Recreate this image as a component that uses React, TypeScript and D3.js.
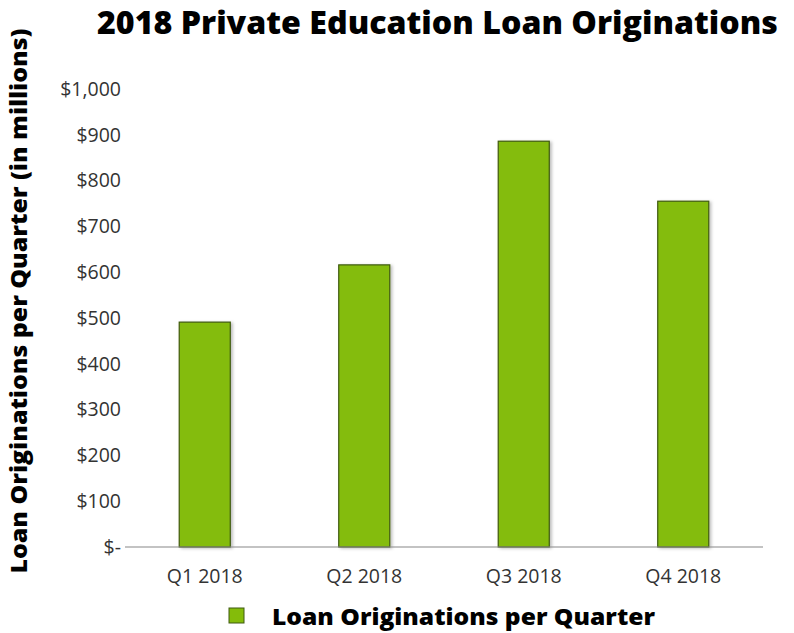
import React from "react";
import * as d3 from "d3";

const quarters = ["Q1 2018", "Q2 2018", "Q3 2018", "Q4 2018"];
const originations = [491, 616, 886, 755];
const yTicks = [0, 100, 200, 300, 400, 500, 600, 700, 800, 900, 1000];

const width = 794;
const height = 633;
const margin = { top: 89, right: 31, bottom: 86, left: 125 };

const fmt = (v: number) => (v === 0 ? "$-" : "$" + d3.format(",")(v));

const App: React.FC = () => {
  const innerW = width - margin.left - margin.right;
  const innerH = height - margin.top - margin.bottom;

  const x = d3
    .scaleBand()
    .domain(quarters)
    .range([0, innerW])
    .paddingInner(0.68)
    .paddingOuter(0.34);

  const y = d3.scaleLinear().domain([0, 1000]).range([innerH, 0]);

  const data = quarters.map((q, i) => ({ q, v: originations[i] }));
  const font = "'Open Sans', sans-serif";

  return (
    <svg width={width} height={height} style={{ position: "absolute", left: 0, top: 0 }}>
      <defs>
        <filter id="shadow" x="-20%" y="-5%" width="150%" height="120%">
          <feDropShadow dx="2" dy="1" stdDeviation="1.5" floodColor="#000" floodOpacity="0.25" />
        </filter>
      </defs>
      <rect width={width} height={height} fill="#fff" />
      <text
        x={97}
        y={34}
        textLength={681}
        lengthAdjust="spacingAndGlyphs"
        fontFamily={font}
        fontWeight={800}
        fontSize={31}
        fill="#000"
      >
        2018 Private Education Loan Originations
      </text>
      <text
        transform="translate(27,301) rotate(-90)"
        textAnchor="middle"
        textLength={545}
        lengthAdjust="spacingAndGlyphs"
        fontFamily={font}
        fontWeight={800}
        fontSize={23}
        fill="#000"
      >
        Loan Originations per Quarter (in millions)
      </text>
      <g transform={`translate(${margin.left},${margin.top})`}>
        {yTicks.map((t) => (
          <text
            key={t}
            x={-4}
            y={y(t)}
            dy="0.35em"
            textAnchor="end"
            fontFamily={font}
            fontSize={19.5}
            fill="#333"
          >
            {fmt(t)}
          </text>
        ))}
        {data.map((d) => (
          <rect
            key={d.q}
            x={x(d.q) ?? 0}
            y={y(d.v)}
            width={x.bandwidth()}
            height={innerH - y(d.v)}
            fill="#84bc0a"
            stroke="#3f5a10"
            strokeWidth={1.2}
            filter="url(#shadow)"
          />
        ))}
        <line x1={0} x2={innerW} y1={innerH} y2={innerH} stroke="#888" strokeWidth={1.2} />
        {quarters.map((q) => (
          <text
            key={q}
            x={(x(q) ?? 0) + x.bandwidth() / 2}
            y={innerH + 36}
            textAnchor="middle"
            fontFamily={font}
            fontSize={19.5}
            fill="#333"
          >
            {q}
          </text>
        ))}
      </g>
      <g transform="translate(229,608)">
        <rect width={15} height={15} fill="#84bc0a" stroke="#3f5a10" strokeWidth={1} />
        <text
          x={43}
          y={17}
          textLength={383}
          lengthAdjust="spacingAndGlyphs"
          fontFamily={font}
          fontWeight={800}
          fontSize={23}
          fill="#000"
        >
          Loan Originations per Quarter
        </text>
      </g>
    </svg>
  );
};

export default App;
